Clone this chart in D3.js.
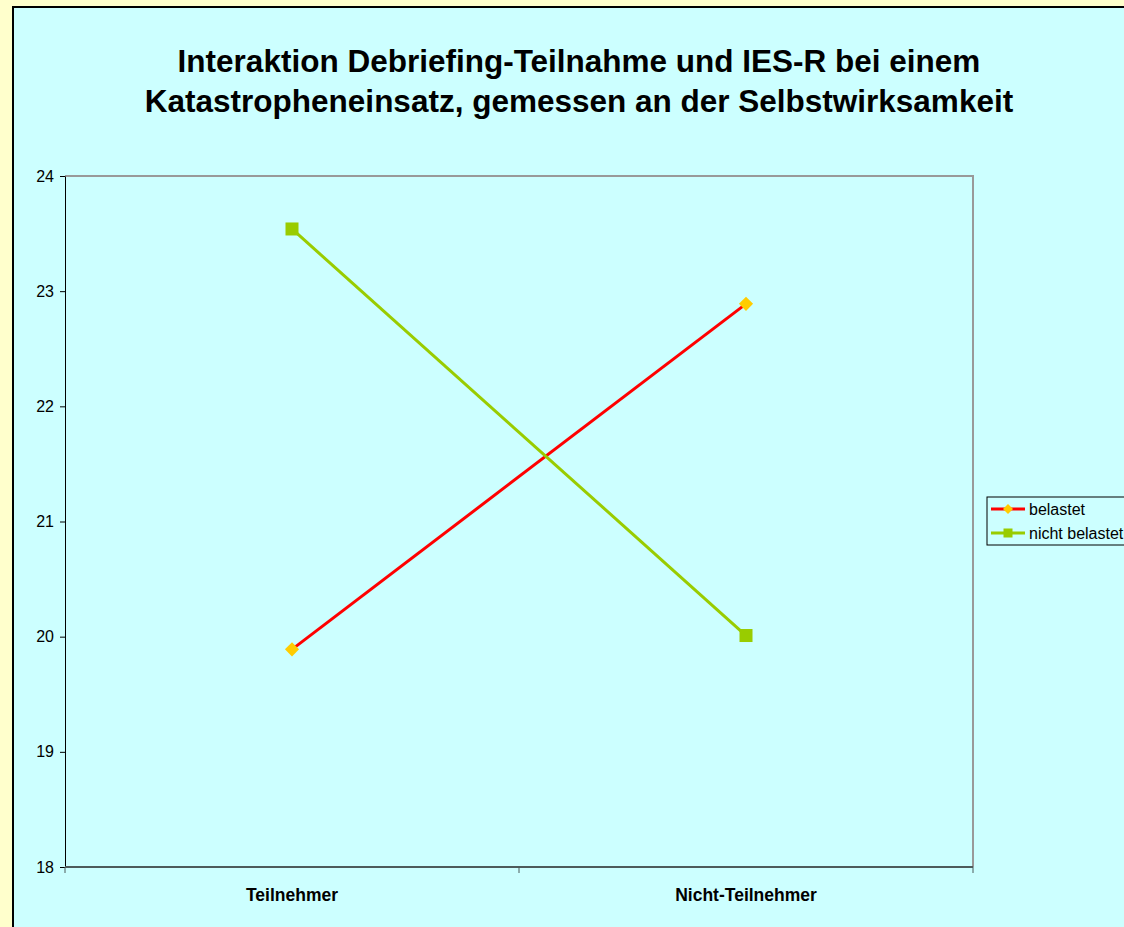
<!DOCTYPE html>
<html><head><meta charset="utf-8">
<script src="https://cdn.jsdelivr.net/npm/d3@7"></script>
<style>html,body{margin:0;padding:0;background:#FFFFCC;}svg{display:block;}</style>
</head><body>
<script>
const categories = ["Teilnehmer", "Nicht-Teilnehmer"];
const seriesNames = ["belastet", "nicht belastet"];
const belastet = [19.89, 22.89];
const nichtBelastet = [23.54, 20.01];
const yTicks = [18, 19, 20, 21, 22, 23, 24];
const titleLines = ["Interaktion Debriefing-Teilnahme und IES-R bei einem", "Katastropheneinsatz, gemessen an der Selbstwirksamkeit"];

(function () {
const W = 1124, H = 927;
const svg = d3.select("body").append("svg").attr("width", W).attr("height", H);
const font = "Liberation Sans, Arial, Helvetica, sans-serif";

svg.append("rect").attr("width", W).attr("height", H).attr("fill", "#FFFFCC");
svg.append("rect").attr("x", 13).attr("y", 7).attr("width", W + 10).attr("height", H + 10)
  .attr("fill", "#CCFFFF").attr("stroke", "#000").attr("stroke-width", 2);

// title
svg.append("g").selectAll("text").data(titleLines).join("text")
  .attr("x", 579).attr("y", (d, i) => 72 + i * 40)
  .attr("text-anchor", "middle").attr("font-family", font).attr("font-weight", "bold")
  .attr("font-size", 31.5).attr("fill", "#000").text(d => d);

const pL = 65, pR = 973, pT = 176, pB = 867;
const x = d3.scaleBand().domain(categories).range([pL, pR]);
const y = d3.scaleLinear().domain([18, 24]).range([pB, pT]);

// plot border (top, right)
svg.append("path").attr("d", `M${pL},${pT}H${pR}V${pB}`)
  .attr("fill", "none").attr("stroke", "#999999").attr("stroke-width", 2);

// y axis
const yAxis = svg.append("g").attr("transform", `translate(${pL},0)`)
  .call(d3.axisLeft(y).tickValues(yTicks).tickFormat(d3.format("d")).tickSize(5).tickSizeOuter(0).tickPadding(6));
yAxis.select(".domain").attr("stroke", "#000").attr("stroke-width", 1);
yAxis.selectAll(".tick line").attr("stroke", "#000");
yAxis.selectAll("text").attr("font-family", font).attr("font-size", 16).attr("fill", "#000");

// x axis
const xAxis = svg.append("g").attr("transform", `translate(0,${pB})`)
  .call(d3.axisBottom(x).tickSize(0).tickPadding(22));
xAxis.select(".domain").remove();
xAxis.selectAll("text").attr("font-family", font).attr("font-size", 17.5).attr("font-weight", "bold").attr("fill", "#000");
svg.append("line").attr("x1", pL).attr("x2", pR).attr("y1", pB).attr("y2", pB)
  .attr("stroke", "#4D5B5B").attr("stroke-width", 2);
const bounds = [pL, x(categories[1]), pR];
svg.append("g").selectAll("line").data(bounds).join("line")
  .attr("x1", d => d).attr("x2", d => d).attr("y1", pB).attr("y2", pB + 6)
  .attr("stroke", "#4D5B5B").attr("stroke-width", 1);

const cx = c => x(c) + x.bandwidth() / 2;
const line = d3.line().x(d => cx(d.c)).y(d => y(d.v));
const s1 = categories.map((c, i) => ({c, v: belastet[i]}));
const s2 = categories.map((c, i) => ({c, v: nichtBelastet[i]}));

svg.append("path").datum(s1).attr("d", line).attr("fill", "none").attr("stroke", "#FF0000").attr("stroke-width", 3);
svg.append("path").datum(s2).attr("d", line).attr("fill", "none").attr("stroke", "#99CC00").attr("stroke-width", 3);

const diamond = d3.symbol().type(d3.symbolSquare).size(100);
svg.append("g").selectAll("path").data(s1).join("path")
  .attr("d", diamond).attr("transform", d => `translate(${cx(d.c)},${y(d.v)}) rotate(45)`)
  .attr("fill", "#FFCC00");
svg.append("g").selectAll("rect").data(s2).join("rect")
  .attr("x", d => cx(d.c) - 6.5).attr("y", d => y(d.v) - 6.5).attr("width", 13).attr("height", 13)
  .attr("fill", "#99CC00");

// legend
const lg = svg.append("g");
lg.append("rect").attr("x", 987).attr("y", 497).attr("width", 150).attr("height", 48)
  .attr("fill", "none").attr("stroke", "#000").attr("stroke-width", 1);
const items = [{n: seriesNames[0], c: "#FF0000", m: "#FFCC00", t: "d"}, {n: seriesNames[1], c: "#99CC00", m: "#99CC00", t: "s"}];
items.forEach((it, i) => {
  const yy = 509 + i * 24;
  lg.append("line").attr("x1", 991).attr("x2", 1025).attr("y1", yy).attr("y2", yy).attr("stroke", it.c).attr("stroke-width", 3);
  if (it.t === "d") {
    lg.append("path").attr("d", d3.symbol().type(d3.symbolSquare).size(50)).attr("transform", `translate(1008,${yy}) rotate(45)`).attr("fill", it.m);
  } else {
    lg.append("rect").attr("x", 1003.5).attr("y", yy - 4.5).attr("width", 9).attr("height", 9).attr("fill", it.m);
  }
  lg.append("text").attr("x", 1029).attr("y", yy + 5.5).attr("font-family", font).attr("font-size", 16).attr("fill", "#000").text(it.n);
});
})();
</script>
</body></html>
